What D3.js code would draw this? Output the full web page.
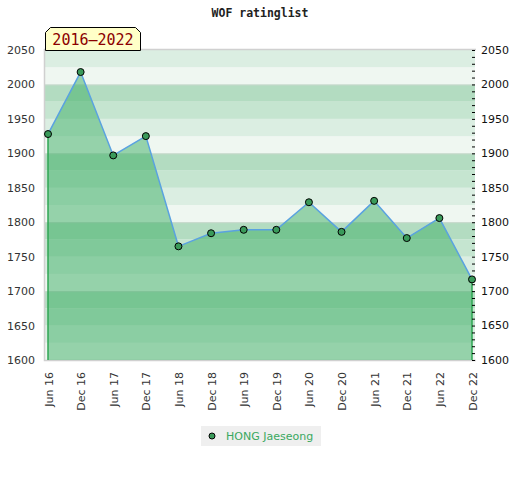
<!DOCTYPE html>
<html>
<head>
<meta charset="utf-8">
<script src="https://cdn.jsdelivr.net/npm/d3@7"></script>
<style>
  body { margin: 0; background: #fff; }
  svg { display: block; }
</style>
</head>
<body>
<div id="chart-area"></div>
<script>
// data
var periods = ["Jun 16", "Dec 16", "Jun 17", "Dec 17", "Jun 18", "Dec 18", "Jun 19",
               "Dec 19", "Jun 20", "Dec 20", "Jun 21", "Dec 21", "Jun 22", "Dec 22"];
var ratings = [1928, 2018, 1897, 1925, 1765, 1784, 1789,
               1789, 1829, 1786, 1831, 1777, 1806, 1717];
var yTicks = [1600, 1650, 1700, 1750, 1800, 1850, 1900, 1950, 2000, 2050];
var playerName = "HONG Jaeseong";
var rangeLabel = "2016\u20132022";
var chartTitle = "WOF ratinglist";

var width = 520, height = 480;
var plot = {left: 45, right: 475, top: 50, bottom: 360};

var svg = d3.select("#chart-area").append("svg")
  .attr("width", width)
  .attr("height", height);

var x = d3.scalePoint()
  .domain(periods)
  .range([48, 472]);

var y = d3.scaleLinear()
  .domain([1600, 2050])
  .range([plot.bottom, plot.top]);

// background bands every 25 points
var bandColor = {0: "#eff7f1", 25: "#dbeee2", 50: "#c5e5d0", 75: "#b3dcc1"};
var bands = d3.range(1600, 2050, 25);
svg.append("g").selectAll("rect")
  .data(bands)
  .enter().append("rect")
  .attr("x", plot.left)
  .attr("width", plot.right - plot.left)
  .attr("y", function(d) { return y(d + 25); })
  .attr("height", function(d) { return y(d) - y(d + 25); })
  .attr("fill", function(d) { return bandColor[d % 100]; });

// faint lines at hundreds
svg.append("g").selectAll("line")
  .data([1700, 1800, 1900, 2000])
  .enter().append("line")
  .attr("x1", plot.left).attr("x2", plot.right)
  .attr("y1", function(d) { return y(d) + 0.5; })
  .attr("y2", function(d) { return y(d) + 0.5; })
  .attr("stroke", "#c8d8cc")
  .attr("stroke-width", 1);

// frame: left, top, bottom
svg.append("path")
  .attr("d", "M" + (plot.right + 1) + "," + (plot.top - 0.5) + "H" + (plot.left - 0.5) +
             "V" + (plot.bottom + 0.5) + "H" + (plot.right + 1))
  .attr("fill", "none")
  .attr("stroke", "#d0d0d0")
  .attr("stroke-width", 1.5);

// area
var area = d3.area()
  .x(function(d, i) { return x(periods[i]); })
  .y0(y(1600))
  .y1(function(d) { return y(d); });

svg.append("path")
  .datum(ratings)
  .attr("d", area)
  .attr("fill", "rgb(60,174,100)")
  .attr("fill-opacity", 0.5);

var line = d3.line()
  .x(function(d, i) { return x(periods[i]); })
  .y(function(d) { return y(d); });

svg.append("path")
  .datum(ratings)
  .attr("d", line)
  .attr("fill", "none")
  .attr("stroke", "#5aa2e0")
  .attr("stroke-width", 1.5);

// green edges of the area
var ends = [0, ratings.length - 1];
svg.append("g").selectAll("line")
  .data(ends)
  .enter().append("line")
  .attr("x1", function(i) { return x(periods[i]); })
  .attr("x2", function(i) { return x(periods[i]); })
  .attr("y1", function(i) { return y(ratings[i]); })
  .attr("y2", y(1600))
  .attr("stroke", "#2fa653")
  .attr("stroke-width", 1.5);

// right axis with minor ticks
var rightAxis = d3.axisRight(y)
  .tickValues(d3.range(1600, 2051, 10))
  .tickSize(3)
  .tickFormat("");
var ra = svg.append("g")
  .attr("transform", "translate(" + (plot.right - 3) + ",0)")
  .call(rightAxis);
ra.select(".domain").remove();
ra.selectAll("line").attr("stroke", "#000");

svg.append("g").selectAll("text")
  .data(yTicks)
  .enter().append("text")
  .attr("x", 481)
  .attr("y", function(d) { return y(d); })
  .attr("dy", "0.35em")
  .attr("font-family", "DejaVu Sans")
  .attr("font-size", 11)
  .attr("fill", "#111")
  .text(function(d) { return d; });

// left axis labels
var leftAxis = d3.axisLeft(y).tickValues(yTicks).tickSize(0).tickPadding(10)
  .tickFormat(d3.format("d"));
var la = svg.append("g")
  .attr("transform", "translate(" + plot.left + ",0)")
  .call(leftAxis);
la.select(".domain").remove();
la.selectAll("text")
  .attr("font-family", "DejaVu Sans")
  .attr("font-size", 11)
  .attr("fill", "#333");

// x axis labels, rotated
var xa = svg.append("g")
  .attr("transform", "translate(0," + plot.bottom + ")")
  .call(d3.axisBottom(x).tickSize(0).tickPadding(0));
xa.select(".domain").remove();
xa.selectAll("text")
  .attr("font-family", "DejaVu Sans")
  .attr("font-size", 11)
  .attr("fill", "#333")
  .attr("text-anchor", "end")
  .attr("transform", "translate(4,12) rotate(-90)")
  .attr("dy", 0)
  .attr("y", 0)
  .attr("x", 0);

// points
svg.append("g").selectAll("circle")
  .data(ratings)
  .enter().append("circle")
  .attr("cx", function(d, i) { return x(periods[i]); })
  .attr("cy", function(d) { return y(d); })
  .attr("r", 3.5)
  .attr("fill", "#3a9a5a")
  .attr("stroke", "#000")
  .attr("stroke-width", 1);

// title
svg.append("text")
  .attr("x", 260)
  .attr("y", 17)
  .attr("text-anchor", "middle")
  .attr("font-family", "DejaVu Sans Mono")
  .attr("font-weight", "bold")
  .attr("font-size", 11.5)
  .attr("fill", "#222")
  .text(chartTitle);

// range tag
var tx0 = 45.5, tx1 = 140.5, ty0 = 27.5, ty1 = 50.5, c = 5;
svg.append("path")
  .attr("d", "M" + tx0 + "," + ty1 + "V" + (ty0 + c) + "L" + (tx0 + c) + "," + ty0 +
             "H" + (tx1 - c) + "L" + tx1 + "," + (ty0 + c) + "V" + ty1 + "Z")
  .attr("fill", "#ffffc8")
  .attr("stroke", "#000")
  .attr("stroke-width", 1);
svg.append("text")
  .attr("x", (tx0 + tx1) / 2)
  .attr("y", 45)
  .attr("text-anchor", "middle")
  .attr("font-family", "DejaVu Sans Mono")
  .attr("font-size", 15)
  .attr("fill", "#8b0000")
  .text(rangeLabel);

// legend
var lg = svg.append("g").attr("transform", "translate(201,426)");
lg.append("rect")
  .attr("width", 120).attr("height", 20)
  .attr("fill", "#efefef");
lg.append("circle")
  .attr("cx", 11).attr("cy", 10).attr("r", 3)
  .attr("fill", "#3a9a5a")
  .attr("stroke", "#000");
lg.append("text")
  .attr("x", 25).attr("y", 14)
  .attr("font-family", "DejaVu Sans")
  .attr("font-size", 11)
  .attr("fill", "#3aa860")
  .text(playerName);
</script>
</body>
</html>
